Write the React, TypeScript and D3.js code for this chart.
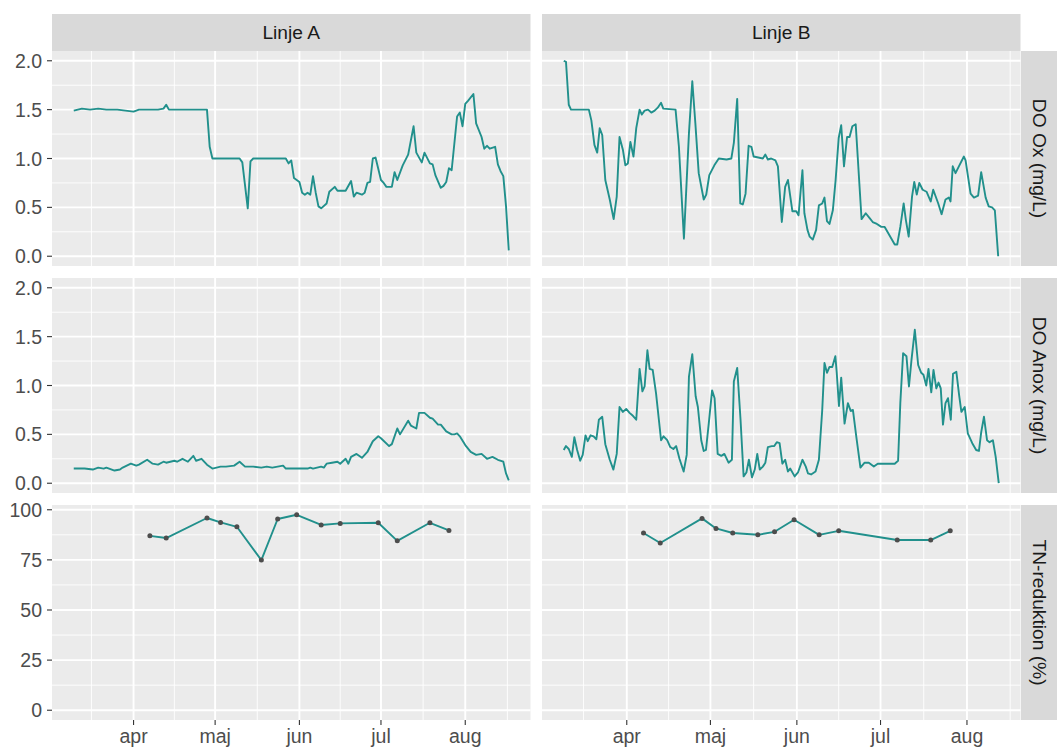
import React from "react";
import * as d3 from "d3";

// ---- data (day = days since 1 March) ----
const doOxA: [number, number][] = [[9,1.49],[12,1.51],[15,1.50],[18,1.51],[21,1.50],[25,1.50],[28,1.49],[31,1.48],[33,1.50],[36,1.50],[40,1.50],[42,1.51],[43,1.55],[44,1.50],[50,1.50],[55,1.50],[58,1.50],[59,1.12],[60,1.0],[65,1.0],[70,1.0],[71,0.96],[73,0.49],[74,0.97],[75,1.0],[80,1.0],[84,1.0],[87,1.0],[88,0.95],[89,0.98],[90,0.8],[92,0.76],[93,0.65],[94,0.63],[95,0.65],[96,0.63],[97,0.82],[98,0.65],[99,0.51],[100,0.49],[102,0.54],[103,0.66],[105,0.71],[106,0.67],[109,0.67],[111,0.77],[112,0.61],[113,0.65],[115,0.63],[116,0.65],[117,0.75],[118,0.76],[119,1.0],[120,1.01],[122,0.78],[123,0.75],[124,0.71],[126,0.71],[127,0.86],[128,0.78],[130,0.93],[132,1.04],[134,1.33],[135,1.06],[137,0.96],[138,1.06],[140,0.95],[141,0.94],[142,0.83],[144,0.7],[145,0.72],[146,0.76],[147,0.9],[148,0.88],[150,1.43],[151,1.47],[152,1.33],[153,1.56],[154,1.59],[156,1.66],[157,1.36],[159,1.22],[160,1.1],[161,1.13],[162,1.1],[164,1.12],[165,0.94],[166,0.87],[167,0.82],[168,0.51],[169,0.06]];

const doOxB: [number, number][] = [[8.4,2.0],[9.2,1.99],[10.2,1.55],[11.0,1.5],[17.4,1.5],[18.3,1.39],[19.4,1.14],[20.4,1.06],[21.3,1.31],[22.2,1.24],[23.3,0.78],[24.9,0.58],[26.3,0.38],[27.4,0.61],[28.4,1.22],[29.6,1.09],[30.5,0.93],[31.4,0.95],[32.3,1.17],[33.4,1.02],[34.4,1.31],[35.6,1.5],[36.4,1.45],[37.4,1.49],[38.6,1.5],[39.8,1.47],[41.0,1.49],[42.1,1.52],[43.3,1.57],[44.1,1.51],[48.5,1.5],[49.7,1.12],[51.5,0.18],[53.3,1.26],[54.5,1.79],[55.6,1.36],[56.8,0.85],[58.6,0.58],[59.5,0.63],[60.6,0.83],[62.4,0.93],[64.0,1.0],[66.8,0.99],[68.5,1.0],[69.4,1.16],[70.6,1.61],[71.7,0.54],[72.6,0.53],[73.6,0.64],[74.7,1.13],[75.7,1.12],[76.5,1.02],[79.8,1.0],[80.7,1.04],[81.6,0.99],[82.8,1.0],[84.3,0.98],[85.2,0.92],[86.6,0.35],[87.8,0.71],[88.8,0.78],[90.4,0.46],[91.8,0.46],[92.6,0.42],[94.0,0.88],[94.7,0.44],[95.8,0.27],[96.6,0.2],[97.7,0.17],[98.9,0.27],[99.9,0.52],[101.1,0.54],[101.9,0.6],[102.8,0.36],[103.7,0.33],[104.9,0.47],[105.9,0.78],[107.0,1.21],[107.9,1.34],[108.9,0.92],[110.0,1.22],[110.9,1.22],[111.9,1.33],[113.1,1.35],[115.2,0.38],[116.7,0.44],[118.1,0.39],[119.2,0.35],[120.7,0.33],[122.3,0.3],[123.5,0.3],[127.1,0.12],[128.0,0.12],[129.1,0.3],[130.3,0.54],[131.1,0.37],[132.1,0.2],[133.3,0.61],[134.1,0.76],[135.0,0.63],[135.9,0.75],[137.1,0.68],[138.5,0.66],[140.0,0.56],[140.9,0.68],[142.7,0.54],[143.9,0.43],[145.3,0.58],[146.5,0.6],[147.1,0.56],[147.9,0.92],[148.9,0.85],[150.1,0.92],[151.9,1.02],[152.5,0.98],[154.3,0.64],[155.5,0.6],[157.0,0.62],[158.1,0.86],[159.7,0.6],[160.8,0.51],[162.0,0.5],[163.0,0.47],[164.2,0.0]];

const doAnoxA: [number, number][] = [[9,0.15],[13,0.15],[16,0.14],[18,0.16],[20,0.15],[21,0.16],[24,0.13],[26,0.14],[27,0.16],[30,0.2],[32,0.18],[33,0.19],[36,0.24],[38,0.2],[40,0.19],[42,0.22],[43,0.21],[46,0.23],[47,0.22],[49,0.25],[51,0.22],[53,0.28],[54,0.23],[56,0.25],[58,0.19],[60,0.15],[63,0.17],[65,0.17],[68,0.18],[70,0.22],[72,0.17],[75,0.17],[78,0.16],[80,0.17],[82,0.16],[86,0.18],[87,0.15],[95,0.15],[96,0.16],[97,0.15],[100,0.17],[101,0.16],[102,0.2],[104,0.21],[106,0.22],[107,0.2],[109,0.25],[110,0.2],[111,0.27],[113,0.3],[115,0.26],[117,0.32],[119,0.43],[121,0.48],[122,0.46],[125,0.38],[126,0.4],[128,0.56],[129,0.5],[132,0.64],[133,0.59],[135,0.56],[136,0.72],[138,0.72],[140,0.67],[141,0.66],[143,0.6],[144,0.6],[146,0.53],[148,0.5],[149,0.5],[150,0.51],[151,0.48],[153,0.39],[155,0.32],[157,0.29],[159,0.3],[161,0.25],[163,0.27],[165,0.24],[167,0.22],[168,0.1],[169,0.03]];

const doAnoxB: [number, number][] = [[8.4,0.34],[9.2,0.38],[10.2,0.35],[11.3,0.27],[12.2,0.47],[13.2,0.34],[14.3,0.23],[15.2,0.29],[16.2,0.49],[17.0,0.43],[18.0,0.49],[19.1,0.48],[20.1,0.45],[21.0,0.65],[22.2,0.68],[23.3,0.4],[24.9,0.24],[26.2,0.14],[27.4,0.3],[28.4,0.78],[29.6,0.73],[30.8,0.76],[32.0,0.72],[33.2,0.69],[34.4,0.65],[35.6,1.17],[36.6,0.94],[37.4,0.99],[38.4,1.36],[39.2,1.17],[40.3,1.16],[41.5,0.92],[43.3,0.44],[44.2,0.48],[45.5,0.44],[46.6,0.37],[47.7,0.35],[48.7,0.38],[49.9,0.25],[51.4,0.12],[52.5,0.29],[53.3,1.09],[54.5,1.32],[55.7,0.89],[56.5,0.78],[57.7,0.44],[58.6,0.33],[59.4,0.34],[60.4,0.61],[61.6,0.95],[62.5,0.87],[63.6,0.3],[64.9,0.28],[66.0,0.3],[67.5,0.21],[68.7,0.24],[69.4,1.04],[70.6,1.18],[71.8,0.65],[72.9,0.07],[73.9,0.11],[74.8,0.24],[75.9,0.06],[76.9,0.14],[77.8,0.3],[78.7,0.14],[79.8,0.17],[80.7,0.21],[81.6,0.37],[83.0,0.38],[83.9,0.38],[84.8,0.42],[85.8,0.41],[86.8,0.2],[87.8,0.24],[88.8,0.12],[89.6,0.15],[91.2,0.07],[92.4,0.11],[94.0,0.24],[95.2,0.17],[96.0,0.1],[97.1,0.09],[98.7,0.12],[99.9,0.24],[101.1,0.75],[101.9,1.23],[102.8,1.13],[103.7,1.19],[104.7,1.19],[105.8,1.3],[106.3,1.13],[107.1,0.79],[107.9,1.08],[109.1,0.61],[110.3,0.82],[111.3,0.74],[112.1,0.75],[113.3,0.48],[114.8,0.16],[116.3,0.21],[117.8,0.21],[119.6,0.17],[121.0,0.2],[123.4,0.2],[125.3,0.2],[127.1,0.2],[128.3,0.23],[129.1,0.82],[130.1,1.33],[131.3,1.3],[132.2,0.99],[133.1,1.26],[134.3,1.57],[135.5,1.21],[136.6,1.13],[137.4,1.11],[138.4,1.0],[139.2,1.17],[140.2,0.93],[141.0,1.16],[142.0,0.97],[142.8,1.03],[143.6,0.97],[144.4,0.6],[145.3,0.82],[146.2,0.87],[147.2,0.65],[148.0,1.12],[149.2,1.14],[150.2,0.9],[151.0,0.73],[152.2,0.78],[153.3,0.51],[154.9,0.41],[156.3,0.34],[157.3,0.33],[158.1,0.52],[159.1,0.68],[160.2,0.44],[161.1,0.42],[162.3,0.44],[163.3,0.27],[164.4,0.0]];

const tnDaysA = [37, 43, 58, 63, 69, 78, 84, 91, 100, 107, 121, 128, 140, 147];
const tnA = [87.0, 85.9, 95.9, 93.7, 91.5, 74.9, 95.4, 97.5, 92.4, 93.2, 93.5, 84.5, 93.5, 89.7];
const tnDaysB = [37, 43, 58, 63, 69, 78, 84, 91, 100, 107, 128, 140, 147];
const tnB = [88.4, 83.4, 95.7, 90.7, 88.4, 87.5, 89.0, 95.0, 87.5, 89.5, 84.9, 84.9, 89.5];

const columnLabels = ["Linje A", "Linje B"];
const rowLabels = ["DO Ox (mg/L)", "DO Anox (mg/L)", "TN-reduktion (%)"];
const monthStarts = ["2021-03-01", "2021-04-01", "2021-05-01", "2021-06-01", "2021-07-01", "2021-08-01", "2021-09-01"];
const monthLabels = ["mar", "apr", "maj", "jun", "jul", "aug", "sep"];
const doTicks = [0, 0.5, 1.0, 1.5, 2.0];
const tnTicks = [0, 25, 50, 75, 100];

// ---- layout ----
const W = 1057, H = 749;
const colX: [number, number][] = [[52, 530.5], [542, 1020.5]];
const rowY: [number, number][] = [[51, 266], [278, 493], [505, 720]];
const stripTop: [number, number] = [14, 51];
const stripRight: [number, number] = [1021, 1058];
const FONT = "'Liberation Sans', Arial, Helvetica, sans-serif";
const LINE = "#21908C";
const TICK_FS = 19.5;
const STRIP_FS = 19.2;

const BASE = Date.UTC(2021, 2, 1);
const toDate = (day: number) => new Date(BASE + day * 864e5);
const parseD = (s: string) => new Date(s + "T00:00:00Z");

function expand(lo: number, hi: number, m = 0.05): [number, number] {
  const r = hi - lo;
  return [lo - r * m, hi + r * m];
}

export default function App() {
  const lineCols = [
    [doOxA, doAnoxA],
    [doOxB, doAnoxB],
  ];
  const tnCols = [
    tnDaysA.map((d, i) => [d, tnA[i]] as [number, number]),
    tnDaysB.map((d, i) => [d, tnB[i]] as [number, number]),
  ];

  const xScales = [0, 1].map((c) => {
    const days = [...lineCols[c][0], ...lineCols[c][1], ...tnCols[c]].map((d) => d[0]);
    const [lo, hi] = expand(d3.min(days)!, d3.max(days)!);
    return d3.scaleUtc().domain([toDate(lo), toDate(hi)]).range(colX[c]);
  });

  const doDomain = expand(0, 2.0);
  const tnMax = d3.max([...tnA, ...tnB])!;
  const tnDomain = expand(0, tnMax);
  const yScales = [
    d3.scaleLinear().domain(doDomain).range([rowY[0][1], rowY[0][0]]),
    d3.scaleLinear().domain(doDomain).range([rowY[1][1], rowY[1][0]]),
    d3.scaleLinear().domain(tnDomain).range([rowY[2][1], rowY[2][0]]),
  ];
  const yTicks = [doTicks, doTicks, tnTicks];
  const yFmt = [(v: number) => d3.format(".1f")(v), (v: number) => d3.format(".1f")(v), (v: number) => String(v)];

  const monthDates = monthStarts.map(parseD);
  const minorX = monthDates.slice(0, -1).map((d, i) => new Date((d.getTime() + monthDates[i + 1].getTime()) / 2));

  const panels: React.ReactNode[] = [];
  for (let c = 0; c < 2; c++) {
    const x = xScales[c];
    const [x0, x1] = colX[c];
    const xd = x.domain();
    const majorXs = monthDates.filter((d) => d >= xd[0] && d <= xd[1]);
    const minorXs = minorX.filter((d) => d >= xd[0] && d <= xd[1]);
    for (let r = 0; r < 3; r++) {
      const y = yScales[r];
      const [y0, y1] = rowY[r];
      const yd = y.domain();
      const maj = yTicks[r];
      const step = maj[1] - maj[0];
      const minorYs = maj.slice(0, -1).map((v) => v + step / 2).concat([maj[0] - step / 2, maj[maj.length - 1] + step / 2]).filter((v) => v > yd[0] && v < yd[1]);
      const line = d3.line<[number, number]>().x((d) => x(toDate(d[0]))).y((d) => y(d[1]));
      panels.push(
        <g key={`p${c}${r}`}>
          <rect x={x0} y={y0} width={x1 - x0} height={y1 - y0} fill="#EBEBEB" />
          {minorYs.map((v) => (
            <line key={`my${v}`} x1={x0} x2={x1} y1={y(v)} y2={y(v)} stroke="#fff" strokeWidth={0.9} />
          ))}
          {minorXs.map((d) => (
            <line key={`mx${d.getTime()}`} x1={x(d)} x2={x(d)} y1={y0} y2={y1} stroke="#fff" strokeWidth={0.9} />
          ))}
          {maj.map((v) => (
            <line key={`gy${v}`} x1={x0} x2={x1} y1={y(v)} y2={y(v)} stroke="#fff" strokeWidth={1.9} />
          ))}
          {majorXs.map((d) => (
            <line key={`gx${d.getTime()}`} x1={x(d)} x2={x(d)} y1={y0} y2={y1} stroke="#fff" strokeWidth={1.9} />
          ))}
          {r < 2 ? (
            <path d={line(lineCols[c][r]) || ""} fill="none" stroke={LINE} strokeWidth={1.9} strokeLinejoin="round" />
          ) : (
            <g>
              <path d={line(tnCols[c]) || ""} fill="none" stroke={LINE} strokeWidth={1.9} strokeLinejoin="round" />
              {tnCols[c].map((d, i) => (
                <circle key={i} cx={x(toDate(d[0]))} cy={y(d[1])} r={2.5} fill="#4D4D4D" />
              ))}
            </g>
          )}
          {c === 0 &&
            maj.map((v) => (
              <g key={`ty${v}`}>
                <line x1={x0 - 5} x2={x0} y1={y(v)} y2={y(v)} stroke="#333" strokeWidth={1.1} />
                <text x={x0 - 10} y={y(v)} dy="0.36em" textAnchor="end" fontSize={TICK_FS} fill="#4D4D4D" fontFamily={FONT}>
                  {yFmt[r](v)}
                </text>
              </g>
            ))}
          {r === 2 &&
            majorXs.map((d) => {
              const i = monthDates.findIndex((m) => m.getTime() === d.getTime());
              return (
                <g key={`tx${d.getTime()}`}>
                  <line x1={x(d)} x2={x(d)} y1={y1} y2={y1 + 5} stroke="#333" strokeWidth={1.1} />
                  <text x={x(d)} y={y1 + 23} textAnchor="middle" fontSize={TICK_FS} fill="#4D4D4D" fontFamily={FONT}>
                    {monthLabels[i]}
                  </text>
                </g>
              );
            })}
        </g>
      );
    }
  }

  return (
    <svg width={W} height={H} style={{ position: "absolute", left: 0, top: 0 }}>
      <rect x={0} y={0} width={W} height={H} fill="#fff" />
      {columnLabels.map((lab, c) => (
        <g key={lab}>
          <rect x={colX[c][0]} y={stripTop[0]} width={colX[c][1] - colX[c][0]} height={stripTop[1] - stripTop[0]} fill="#D9D9D9" />
          <text x={(colX[c][0] + colX[c][1]) / 2} y={(stripTop[0] + stripTop[1]) / 2} dy="0.36em" textAnchor="middle" fontSize={STRIP_FS} fill="#1A1A1A" fontFamily={FONT}>
            {lab}
          </text>
        </g>
      ))}
      {rowLabels.map((lab, r) => {
        const cy = (rowY[r][0] + rowY[r][1]) / 2;
        const cx = (stripRight[0] + stripRight[1]) / 2;
        return (
          <g key={lab}>
            <rect x={stripRight[0]} y={rowY[r][0]} width={stripRight[1] - stripRight[0]} height={rowY[r][1] - rowY[r][0]} fill="#D9D9D9" />
            <text transform={`translate(${cx},${cy}) rotate(90)`} dy="0.36em" textAnchor="middle" fontSize={STRIP_FS} fill="#1A1A1A" fontFamily={FONT}>
              {lab}
            </text>
          </g>
        );
      })}
      {panels}
    </svg>
  );
}
